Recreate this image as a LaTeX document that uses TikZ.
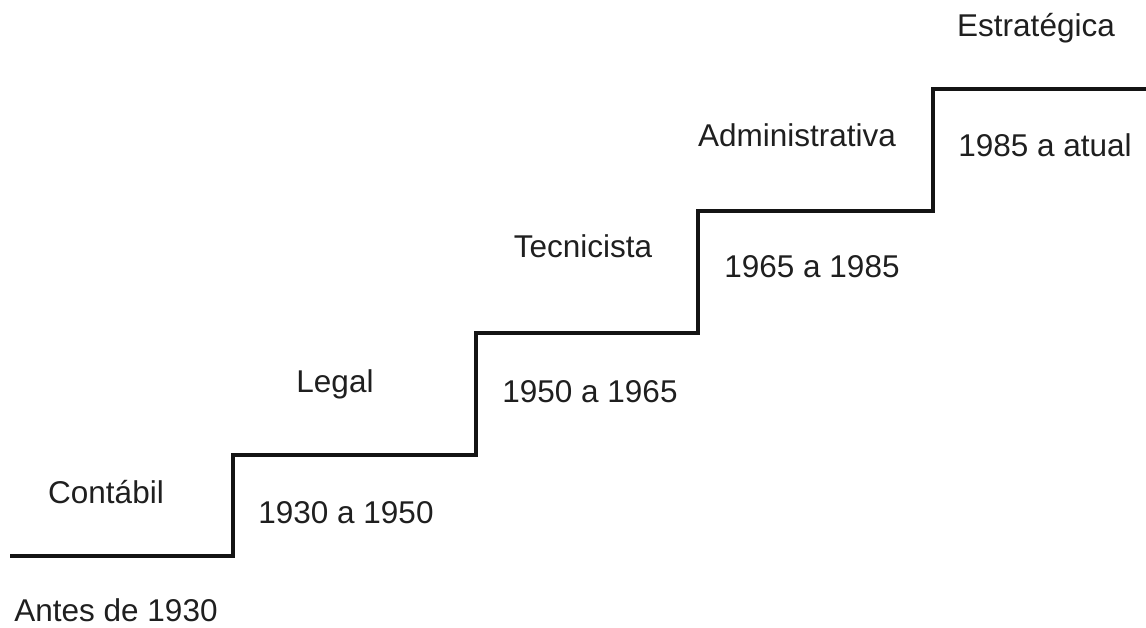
\documentclass[tikz,border=0pt]{standalone}
\usepackage{fontspec}
\setmainfont{Liberation Sans}
\begin{document}
\begin{tikzpicture}[x=1pt,y=-1pt,
  lbl/.style={anchor=base,inner sep=0pt,font=\fontsize{31.5}{36}\selectfont,text=black!88},
  stair/.style={line width=4pt,black!92,line join=miter}]
\useasboundingbox (0,0) rectangle (1146,628);
\coordinate (p0) at (10,556);
\coordinate (p1) at (233,556);
\coordinate (p2) at (233,455);
\coordinate (p3) at (476,455);
\coordinate (p4) at (476,333);
\coordinate (p5) at (698,333);
\coordinate (p6) at (698,211);
\coordinate (p7) at (933,211);
\coordinate (p8) at (933,89);
\coordinate (p9) at (1148,89);
\draw[stair] (p0) -- (p1) -- (p2) -- (p3) -- (p4) -- (p5) -- (p6) -- (p7) -- (p8) -- (p9);
\node[lbl] (antes) at (116,621) {Antes de 1930};
\node[lbl] (contabil) at (106,503) {Contábil};
\node[lbl] (d1930) at (346,523) {1930 a 1950};
\node[lbl] (legal) at (335,392) {Legal};
\node[lbl] (d1950) at (590,402) {1950 a 1965};
\node[lbl] (tecn) at (583,258) {Tecnicista};
\node[lbl] (d1965) at (812,278) {1965 a 1985};
\node[lbl] (adm) at (797,147) {Administrativa};
\node[lbl] (d1985) at (1045,157) {1985 a atual};
\node[lbl] (estr) at (1036,37) {Estratégica};
\end{tikzpicture}
\end{document}
